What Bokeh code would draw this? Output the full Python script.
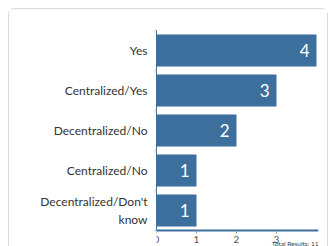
from bokeh.plotting import figure
from bokeh.models import FixedTicker, Label, ColumnDataSource, Range1d
from bokeh.core.properties import value
from bokeh.embed import file_html
from bokeh.resources import INLINE

categories = ["Yes", "Centralized/Yes", "Decentralized/No", "Centralized/No", "Decentralized/Don't\nknow"]
counts = [4, 3, 2, 1, 1]
x_ticks = [0, 1, 2, 3]
total_text = "Total Results: 11"

n = len(categories)
ypos = [n - i - 0.5 for i in range(n)]
src = ColumnDataSource(dict(y=ypos, v=counts, t=[str(c) for c in counts]))

p = figure(width=320, height=238, output_backend="svg", toolbar_location=None,
           x_range=Range1d(0, 4.05), y_range=Range1d(-0.425, n),
           min_border_left=147, min_border_right=11, min_border_top=21, min_border_bottom=0)
p.styles = {"border-top": "1px solid #d9d9d9", "border-left": "1px solid #d9d9d9",
            "border-right": "1px solid #d9d9d9", "border-radius": "7px 7px 0 0",
            "box-sizing": "border-box", "margin": "8px 0 0 8px"}
p.outline_line_color = None
p.grid.visible = False
p.background_fill_color = "white"
p.border_fill_color = "white"

p.hbar(y="y", right="v", left=0, height=0.8, source=src, fill_color="#3d6f9c", line_color=None)
p.text(x="v", y="y", text="t", source=src, x_offset=-7, text_align="right", text_baseline="middle",
       text_color="white", text_font_size="17px", text_font=value("Lato"))

# y axis
ya = p.yaxis[0]
ya.bounds = (0, n)
ya.ticker = FixedTicker(ticks=ypos, minor_ticks=[float(i) for i in range(n + 1)])
ya.major_label_overrides = {y: c for y, c in zip(ypos, categories)}
ya.major_tick_line_color = None
ya.minor_tick_line_color = "#aab8c6"
ya.minor_tick_out = 2
ya.minor_tick_in = 0
ya.axis_line_color = "#3d6f9c"
ya.axis_line_width = 1
ya.major_label_text_font = "Lato"
ya.major_label_text_font_size = "12px"
ya.major_label_text_color = "#333333"
ya.major_label_standoff = 3

xa = p.xaxis[0]
xa.fixed_location = 0
xa.ticker = FixedTicker(ticks=x_ticks)
xa.axis_line_color = "#3d6f9c"
xa.axis_line_width = 2
xa.major_tick_line_color = "#8899aa"
xa.major_tick_out = 3
xa.major_tick_in = 0
xa.minor_tick_line_color = None
xa.major_label_text_font = "Lato"
xa.major_label_text_font_size = "10px"
xa.major_label_text_color = "#555555"
xa.major_label_standoff = 2

p.add_layout(Label(x=4.05, y=-0.24, text=total_text,
                   text_align="right", text_baseline="top", text_font_size="6.5px",
                   text_color="#444444", text_font="Lato"))

open("out.html", "w").write(file_html(p, INLINE))
